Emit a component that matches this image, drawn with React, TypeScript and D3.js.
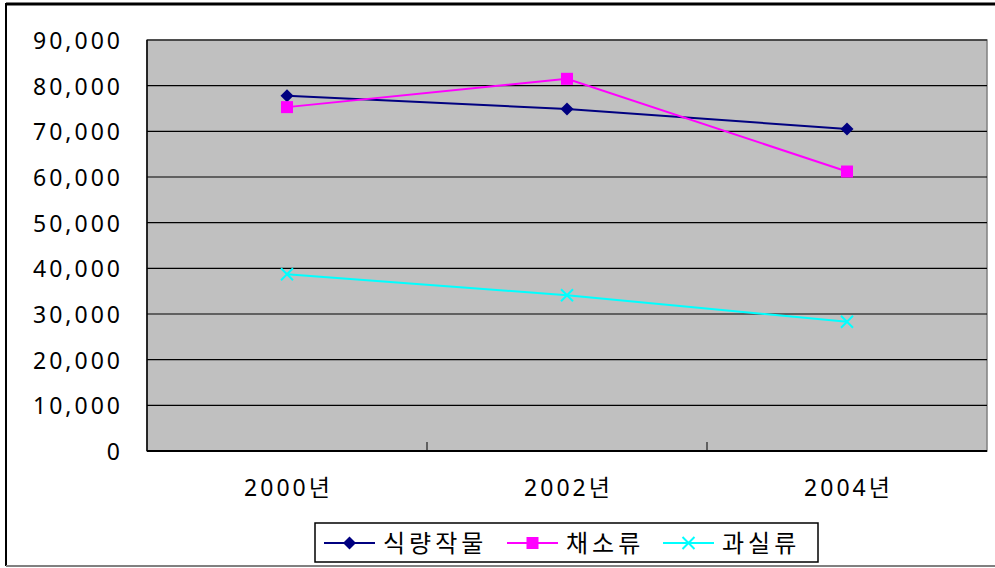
import React from 'react'
import * as d3 from 'd3'

const years = ['2000년', '2002년', '2004년']
const yTicks = [0, 10000, 20000, 30000, 40000, 50000, 60000, 70000, 80000, 90000]
const grain = [77800, 74900, 70500]
const vegetable = [75300, 81500, 61200]
const fruit = [38700, 34100, 28300]

const seriesList = [
	{name: '식량작물', values: grain, color: '#000080', shape: 'diamond'},
	{name: '채소류', values: vegetable, color: '#FF00FF', shape: 'square'},
	{name: '과실류', values: fruit, color: '#00FFFF', shape: 'x'},
]

const W = 995
const H = 568
const plot = {left: 147, right: 987, top: 40, bottom: 451}
const font = '"Noto Sans", "Noto Sans CJK KR", sans-serif'

function Marker({shape, x, y, color}) {
	if (shape === 'diamond') {
		return <path d={`M${x},${y - 6.5}L${x + 6.5},${y}L${x},${y + 6.5}L${x - 6.5},${y}Z`} fill={color} />
	}
	if (shape === 'square') {
		return <rect x={x - 6} y={y - 6} width={12} height={12} fill={color} />
	}
	return (
		<path d={`M${x - 6},${y - 6}L${x + 6},${y + 6}M${x + 6},${y - 6}L${x - 6},${y + 6}`} stroke={color} strokeWidth={2} />
	)
}

export default function App() {
	const xBand = d3.scaleBand().domain(years).range([plot.left, plot.right])
	const xScale = (d) => xBand(d) + xBand.bandwidth() / 2
	const yScale = d3.scaleLinear().domain([0, 90000]).range([plot.bottom, plot.top])
	const fmt = d3.format(',')

	const line = d3.line()
		.x((d, i) => xScale(years[i]))
		.y((d) => yScale(d))

	// legend layout (box + item offsets)
	const legendItems = [
		{lineX: 324, textX: 383},
		{lineX: 507, textX: 566},
		{lineX: 663, textX: 722},
	]

	return (
		<svg width={W} height={H} style={{position: 'absolute', left: 0, top: 0, background: '#fff'}}>
			{/* chart frame */}
			<line x1={6} y1={4} x2={W} y2={4} stroke="#000" strokeWidth={3} />
			<line x1={6} y1={3} x2={6} y2={566} stroke="#000" strokeWidth={2} />
			<line x1={6} y1={566} x2={W} y2={566} stroke="#808080" strokeWidth={2} />

			<rect x={plot.left} y={plot.top} width={plot.right - plot.left} height={plot.bottom - plot.top}
				fill="#C0C0C0" stroke="#808080" strokeWidth={1.5} />

			{yTicks.map((t) => (
				<g key={`y-${t}`}>
					<line x1={plot.left} x2={plot.right} y1={yScale(t)} y2={yScale(t)} stroke="#000" strokeWidth={1.2} />
					<text x={123} y={yScale(t) + 9} textAnchor="end" fontFamily={font} fontSize={23}
						letterSpacing={3} fill="#000">{fmt(t)}</text>
				</g>
			))}

			<line x1={plot.left} x2={plot.left} y1={plot.top} y2={plot.bottom} stroke="#000" strokeWidth={1.5} />
			<line x1={plot.left} x2={plot.right} y1={plot.bottom} y2={plot.bottom} stroke="#000" strokeWidth={2} />

			{years.slice(1).map((y) => (
				<line key={`tick-${y}`} x1={xBand(y)} x2={xBand(y)} y1={plot.bottom} y2={plot.bottom - 9} stroke="#000" strokeWidth={1} />
			))}

			{years.map((y) => (
				<text key={`x-${y}`} x={xScale(y) + 1.5} y={496} textAnchor="middle" fontFamily={font} fontSize={23}
					letterSpacing={3} fill="#000">{y}</text>
			))}

			{seriesList.map((s) => (
				<g key={s.name}>
					<path d={line(s.values)} fill="none" stroke={s.color} strokeWidth={2} />
					{s.values.map((v, i) => (
						<Marker key={i} shape={s.shape} x={xScale(years[i])} y={yScale(v)} color={s.color} />
					))}
				</g>
			))}

			{/* legend */}
			<rect x={315} y={523} width={503} height={39} fill="#fff" stroke="#000" strokeWidth={1.5} />
			{seriesList.map((s, i) => (
				<g key={`leg-${s.name}`}>
					<line x1={legendItems[i].lineX} x2={legendItems[i].lineX + 51} y1={543} y2={543} stroke={s.color} strokeWidth={2} />
					<Marker shape={s.shape} x={legendItems[i].lineX + 25.5} y={543} color={s.color} />
					<text x={legendItems[i].textX} y={552} fontFamily={font} fontSize={24} letterSpacing={4} fill="#000">{s.name}</text>
				</g>
			))}
		</svg>
	)
}
